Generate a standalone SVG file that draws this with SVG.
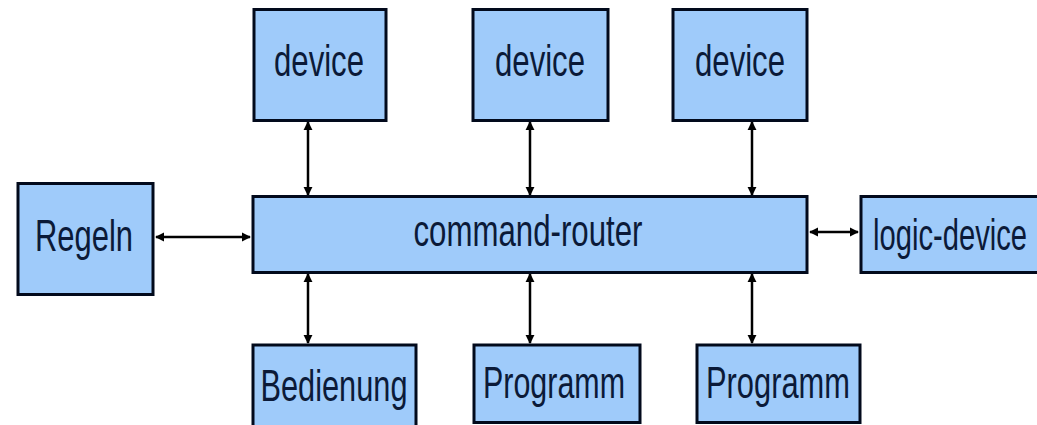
<svg xmlns="http://www.w3.org/2000/svg" width="1037" height="425" viewBox="0 0 1037 425">
<style>
.box{fill:#9fcbfa;stroke:#020a1c;stroke-width:3}
.lbl{font-family:"Liberation Sans",Arial,sans-serif;font-size:44px;fill:#0b1a38;text-anchor:middle}
.con{stroke:#000;stroke-width:2.5;fill:none;marker-start:url(#ah);marker-end:url(#ah)}
</style>
<defs>
<marker id="ah" viewBox="0 0 10 10" refX="9" refY="5" markerWidth="3.6" markerHeight="4" orient="auto-start-reverse">
<path d="M0,0 L10,5 L0,10 z" fill="#000"/>
</marker>
</defs>
<rect width="1037" height="425" fill="#fff"/>
<g id="connectors">
<line class="con" x1="308" y1="122" x2="308" y2="195"/>
<line class="con" x1="530" y1="122" x2="530" y2="195"/>
<line class="con" x1="752" y1="122" x2="752" y2="195"/>
<line class="con" x1="308" y1="274" x2="308" y2="343"/>
<line class="con" x1="530" y1="274" x2="530" y2="343"/>
<line class="con" x1="752" y1="274" x2="752" y2="343"/>
<line class="con" x1="156" y1="237" x2="250" y2="237"/>
<line class="con" x1="810" y1="232" x2="858" y2="232"/>
</g>
<g id="device1"><rect class="box" x="254" y="9.5" width="132" height="111"/><text class="lbl" x="319" y="76" textLength="90" lengthAdjust="spacingAndGlyphs">device</text></g>
<g id="device2"><rect class="box" x="473" y="9.5" width="135" height="111"/><text class="lbl" x="540" y="76" textLength="90" lengthAdjust="spacingAndGlyphs">device</text></g>
<g id="device3"><rect class="box" x="673" y="9.5" width="134" height="111"/><text class="lbl" x="740" y="76" textLength="90" lengthAdjust="spacingAndGlyphs">device</text></g>
<g id="router"><rect class="box" x="253" y="196.5" width="554" height="76"/><text class="lbl" x="528" y="246" textLength="229" lengthAdjust="spacingAndGlyphs">command-router</text></g>
<g id="regeln"><rect class="box" x="18" y="183.5" width="135" height="111"/><text class="lbl" x="84" y="251" textLength="98" lengthAdjust="spacingAndGlyphs">Regeln</text></g>
<g id="logic"><rect class="box" x="861" y="196.5" width="180" height="76"/><text class="lbl" x="950" y="250" textLength="154" lengthAdjust="spacingAndGlyphs">logic-device</text></g>
<g id="bedienung"><rect class="box" x="253" y="345" width="163" height="90"/><text class="lbl" x="334" y="401" textLength="147" lengthAdjust="spacingAndGlyphs">Bedienung</text></g>
<g id="programm1"><rect class="box" x="474" y="345" width="166" height="77.5"/><text class="lbl" x="554" y="398" textLength="142" lengthAdjust="spacingAndGlyphs">Programm</text></g>
<g id="programm2"><rect class="box" x="697" y="345" width="163" height="77.5"/><text class="lbl" x="778" y="398" textLength="144" lengthAdjust="spacingAndGlyphs">Programm</text></g>
</svg>
